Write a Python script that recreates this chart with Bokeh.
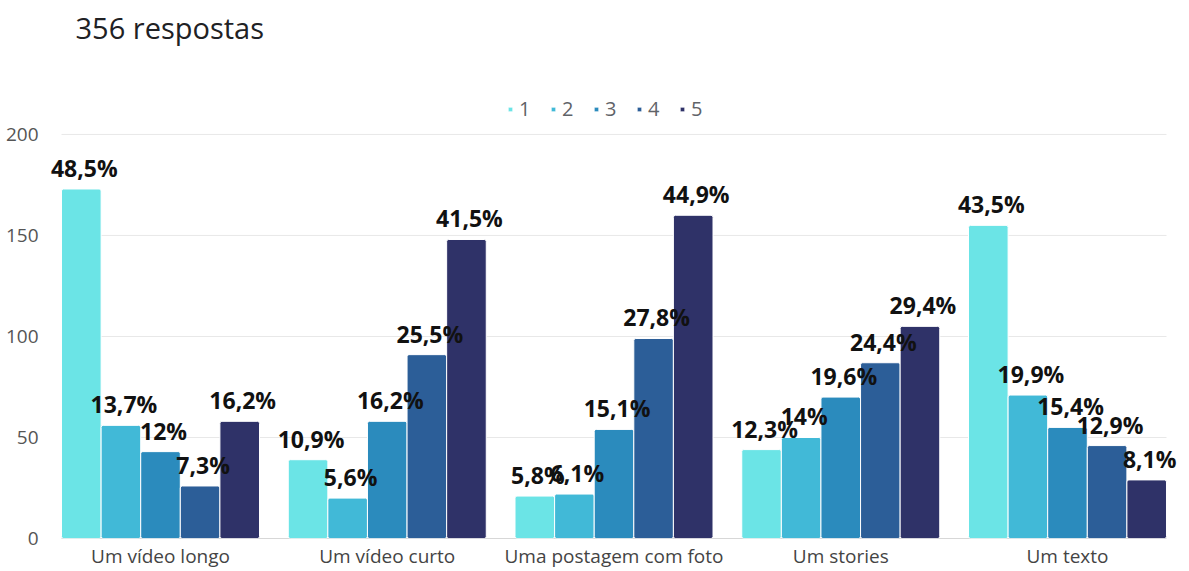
from bokeh.plotting import figure
from bokeh.models import ColumnDataSource, Range1d, FixedTicker, Legend, LegendItem, Label, LabelSet
from bokeh.transform import dodge
from bokeh.core.properties import value
from bokeh.embed import file_html
from bokeh.resources import INLINE

categories = ["Um vídeo longo", "Um vídeo curto", "Uma postagem com foto", "Um stories", "Um texto"]
series_names = ["1", "2", "3", "4", "5"]
s1 = [173, 39, 21, 44, 155]
s2 = [56, 20, 22, 50, 71]
s3 = [43, 58, 54, 70, 55]
s4 = [26, 91, 99, 87, 46]
s5 = [58, 148, 160, 105, 29]
l1 = ["48,5%", "10,9%", "5,8%", "12,3%", "43,5%"]
l2 = ["13,7%", "5,6%", "6,1%", "14%", "19,9%"]
l3 = ["12%", "16,2%", "15,1%", "19,6%", "15,4%"]
l4 = ["7,3%", "25,5%", "27,8%", "24,4%", "12,9%"]
l5 = ["16,2%", "41,5%", "44,9%", "29,4%", "8,1%"]
y_ticks = [0, 50, 100, 150, 200]
title_text = "356 respostas"

colors = ["#6be4e6", "#41b9d7", "#2b8bbd", "#2c5e98", "#2f3268"]
FONT = "Open Sans"

values_all = [s1, s2, s3, s4, s5]
labels_all = [l1, l2, l3, l4, l5]

idx = list(range(len(categories)))
data = {"x": idx}
for i in range(5):
    data[f"v{i}"] = values_all[i]
    data[f"t{i}"] = labels_all[i]
src = ColumnDataSource(data)

group_w = 0.8732
bar_w = group_w / 5
half = group_w / 2
n = len(categories)

p = figure(width=1189, height=571, output_backend="svg", toolbar_location=None,
           title=None, x_range=Range1d(-0.5028, 4.5204),
           y_range=Range1d(0, 266.3),
           min_border_left=46, min_border_right=4, min_border_top=0, min_border_bottom=33)
p.outline_line_color = None
p.background_fill_color = "white"
p.border_fill_color = "white"

# grid lines limited to the bar area
grid_y = [t for t in y_ticks if t != 0]
p.segment(x0=[-half] * len(grid_y), x1=[n - 1 + half] * len(grid_y), y0=grid_y, y1=grid_y,
          line_color="#e8e8e8", line_width=1)
p.segment(x0=[-half], x1=[n - 1 + half], y0=[0], y1=[0], line_color="#b0b0b0", line_width=1)

items = []
for i in range(5):
    off = (i - 2) * bar_w
    r = p.vbar(x=dodge("x", off), top=f"v{i}", width=bar_w, source=src,
               fill_color=colors[i], line_color="white", line_width=1, border_radius=2)
    items.append(LegendItem(label=series_names[i], renderers=[r]))
    p.add_layout(LabelSet(x=dodge("x", off), y=f"v{i}", text=f"t{i}", source=src,
                          text_font=value(FONT), text_font_style="bold", text_font_size="23px",
                          text_color="#111111", text_align="center", text_baseline="alphabetic",
                          x_offset=3, y_offset=12))

# axes
p.xaxis.ticker = FixedTicker(ticks=idx)
p.xaxis.major_label_overrides = {i: c for i, c in enumerate(categories)}
p.xaxis.major_tick_line_color = None
p.xaxis.minor_tick_line_color = None
p.xaxis.axis_line_color = None
p.xaxis.major_label_text_font = FONT
p.xaxis.major_label_text_font_size = "19px"
p.xaxis.major_label_text_color = "#444444"
p.xaxis.major_label_standoff = -2

p.yaxis.ticker = FixedTicker(ticks=y_ticks)
p.yaxis.major_tick_line_color = None
p.yaxis.minor_tick_line_color = None
p.yaxis.axis_line_color = None
p.yaxis.major_label_text_font = FONT
p.yaxis.major_label_text_font_size = "19px"
p.yaxis.major_label_text_color = "#555555"
p.yaxis.major_label_standoff = 2

p.xgrid.grid_line_color = None
p.ygrid.grid_line_color = None

legend = Legend(items=items, orientation="horizontal", location=(461, 416),
                glyph_width=6, glyph_height=6, label_standoff=6, spacing=11,
                padding=0, margin=0, border_line_color=None, background_fill_alpha=0,
                label_text_font=FONT, label_text_font_size="20px", label_text_color="#5f6368")
p.add_layout(legend, "center")

p.add_layout(Label(x=29, y=511, x_units="screen", y_units="screen", text=title_text,
                   text_font=FONT, text_font_size="29px", text_color="#202124",
                   text_baseline="alphabetic"))

open("out.html", "w").write(file_html(p, INLINE))
